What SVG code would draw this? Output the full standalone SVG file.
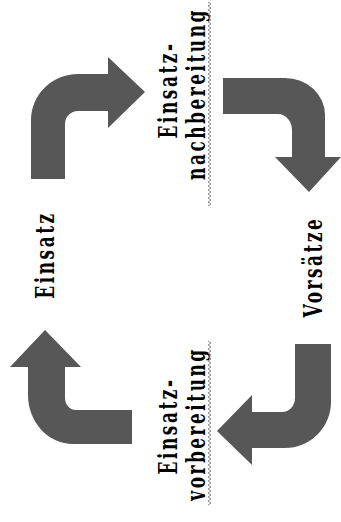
<svg xmlns="http://www.w3.org/2000/svg" width="341" height="522" viewBox="0 0 341 522">
<style>
.arrow{fill:#575757;}
.lbl{font-family:"DejaVu Serif","Liberation Serif",serif;font-weight:bold;font-size:17px;letter-spacing:2.5px;fill:#000;text-anchor:middle;}
.wave{fill:none;stroke:#8a8a8a;stroke-width:1;}
</style>
<rect width="341" height="522" fill="#fff"/>
<g id="connectors">
<path class="arrow" d="M31,179 L31,120 A47,46 0 0 1 78,74 L108,74 L108,57 L145,92 L108,128 L108,111 L78,111 A13,13 0 0 0 65,124 L65,179 Z"/>
<path class="arrow" d="M223,78 L285,78 A40,37 0 0 1 325,115 L325,157 L341,157 L309,192 L275,157 L292,157 L292,130 A14,16 0 0 0 278,114 L223,114 Z"/>
<path class="arrow" d="M295,344 L331,344 L331,402 A46,46 0 0 1 285,448 L252,448 L252,465 L217,431 L252,395 L252,412 L282,412 A13,14 0 0 0 295,398 Z"/>
<path class="arrow" d="M132,410 L76,410 A11,12 0 0 1 65,398 L65,367 L81,367 L45,330 L10,367 L28,367 L28,395 A45,49 0 0 0 73,444 L132,444 Z"/>
</g>
<g id="einsatz">
<text class="lbl" transform="translate(54,255) rotate(-90) scale(1,1.5)">Einsatz</text>
</g>
<g id="nachbereitung">
<text class="lbl" transform="translate(177,90) rotate(-90) scale(1,1.5)">Einsatz-</text>
<text class="lbl" transform="translate(205,94) rotate(-90) scale(1,1.5)">nachbereitung</text>
<path class="wave" d="M208,2 l3,2 l-3,2 l3,2 l-3,2 l3,2 l-3,2 l3,2 l-3,2 l3,2 l-3,2 l3,2 l-3,2 l3,2 l-3,2 l3,2 l-3,2 l3,2 l-3,2 l3,2 l-3,2 l3,2 l-3,2 l3,2 l-3,2 l3,2 l-3,2 l3,2 l-3,2 l3,2 l-3,2 l3,2 l-3,2 l3,2 l-3,2 l3,2 l-3,2 l3,2 l-3,2 l3,2 l-3,2 l3,2 l-3,2 l3,2 l-3,2 l3,2 l-3,2 l3,2 l-3,2 l3,2 l-3,2 l3,2 l-3,2 l3,2 l-3,2 l3,2 l-3,2 l3,2 l-3,2 l3,2 l-3,2 l3,2 l-3,2 l3,2 l-3,2 l3,2 l-3,2 l3,2 l-3,2 l3,2 l-3,2 l3,2 l-3,2 l3,2 l-3,2 l3,2 l-3,2 l3,2 l-3,2 l3,2 l-3,2 l3,2 l-3,2 l3,2 l-3,2 l3,2 l-3,2 l3,2 l-3,2 l3,2 l-3,2 l3,2 l-3,2 l3,2 l-3,2 l3,2 l-3,2 l3,2 l-3,2 l3,2 l-3,2 l3,2 l-3,2"/>
</g>
<g id="vorsaetze">
<text class="lbl" transform="translate(322,267) rotate(-90) scale(1,1.5)">Vorsätze</text>
</g>
<g id="vorbereitung">
<text class="lbl" transform="translate(177,426) rotate(-90) scale(1,1.5)">Einsatz-</text>
<text class="lbl" transform="translate(205,424) rotate(-90) scale(1,1.5)">vorbereitung</text>
<path class="wave" d="M208,341 l3,2 l-3,2 l3,2 l-3,2 l3,2 l-3,2 l3,2 l-3,2 l3,2 l-3,2 l3,2 l-3,2 l3,2 l-3,2 l3,2 l-3,2 l3,2 l-3,2 l3,2 l-3,2 l3,2 l-3,2 l3,2 l-3,2 l3,2 l-3,2 l3,2 l-3,2 l3,2 l-3,2 l3,2 l-3,2 l3,2 l-3,2 l3,2 l-3,2 l3,2 l-3,2 l3,2 l-3,2 l3,2 l-3,2 l3,2 l-3,2 l3,2 l-3,2 l3,2 l-3,2 l3,2 l-3,2 l3,2 l-3,2 l3,2 l-3,2 l3,2 l-3,2 l3,2 l-3,2 l3,2 l-3,2 l3,2 l-3,2 l3,2 l-3,2 l3,2 l-3,2 l3,2 l-3,2 l3,2 l-3,2 l3,2 l-3,2 l3,2 l-3,2 l3,2 l-3,2 l3,2 l-3,2 l3,2 l-3,2 l3,2 l-3,2"/>
</g>
</svg>
